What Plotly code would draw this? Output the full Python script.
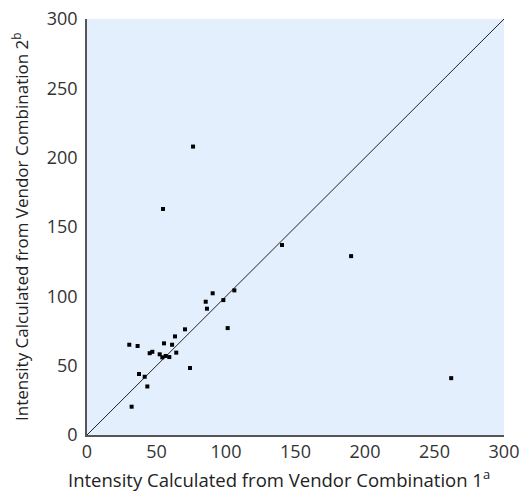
import plotly.graph_objects as go

vendor1 = [76.3, 54.7, 190.0, 140.3, 262.0, 30.4, 36.4, 32.1, 37.4, 41.5, 43.4, 45.1, 47.0,
           52.3, 54.2, 55.4, 56.6, 59.2, 61.2, 63.3, 64.2, 70.5, 74.1, 85.4, 86.3, 90.4,
           98.1, 101.2, 106.0]
vendor2 = [208.0, 163.0, 129.0, 137.0, 41.0, 65.1, 64.2, 20.4, 44.0, 42.0, 35.0, 59.0, 60.0,
           58.2, 56.0, 66.1, 57.0, 56.2, 65.1, 71.1, 59.4, 76.2, 48.3, 96.1, 91.1, 102.2,
           97.3, 77.1, 104.3]
identity = [0, 300]
tick_vals = [0, 50, 100, 150, 200, 250, 300]
x_title = "Intensity Calculated from Vendor Combination 1<sup>a</sup>"
y_title = "Intensity Calculated from Vendor Combination 2<sup>b</sup>"

font_family = "Open Sans, Lato, Noto Sans, sans-serif"

fig = go.Figure()
fig.add_trace(go.Scatter(x=identity, y=identity, mode="lines",
                         line=dict(color="#222222", width=1), hoverinfo="skip"))
fig.add_trace(go.Scatter(x=vendor1, y=vendor2, mode="markers",
                         marker=dict(symbol="square", size=4, color="#000000")))

axis_common = dict(range=[0, 300], tickvals=tick_vals, showgrid=False, zeroline=False,
                   showline=True, linecolor="#555555", linewidth=1.5, ticks="",
                   automargin=False, ticklabeloverflow="allow",
                   tickfont=dict(size=18, color="#333333", family=font_family))

fig.update_layout(
    width=523, height=491,
    margin=dict(l=87, r=19, t=19, b=56),
    paper_bgcolor="white", plot_bgcolor="#e3effd",
    showlegend=False,
    font=dict(family=font_family, color="#222222"),
    xaxis=dict(**axis_common, ticklabelstandoff=0),
    yaxis=dict(**axis_common, ticklabelstandoff=4),
    annotations=[
        dict(text=x_title, xref="paper", yref="paper", x=0.5, y=0,
             xanchor="center", yanchor="top", xshift=-17, yshift=-28,
             showarrow=False, font=dict(size=18.5, color="#222222")),
        dict(text=y_title, xref="paper", yref="paper", x=0, y=0.5,
             xanchor="center", yanchor="middle", xshift=-67, textangle=-90,
             showarrow=False, font=dict(size=17, color="#222222")),
    ],
)

fig.write_html("out.html", config={"displayModeBar": False},
               post_script="document.body.style.margin='0';document.body.style.overflow='hidden';")
